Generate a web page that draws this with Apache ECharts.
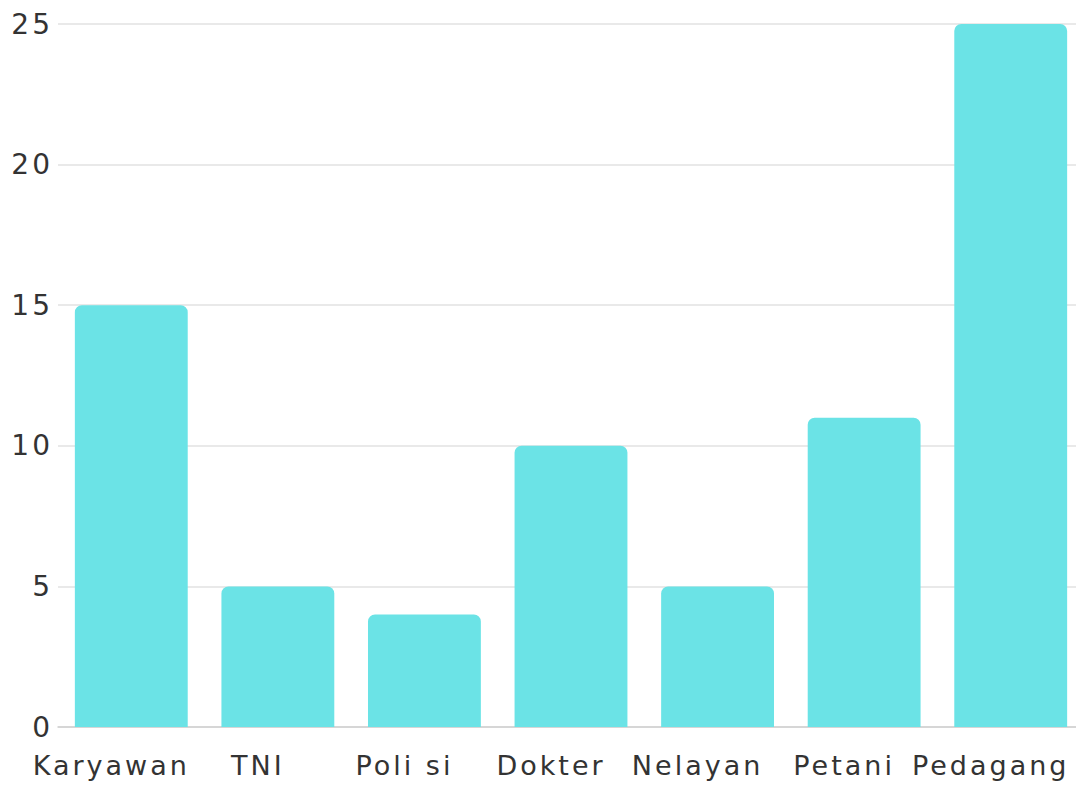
<!DOCTYPE html>
<html>
<head>
<meta charset="utf-8">
<style>
  html, body { margin: 0; padding: 0; background: #fff; }
  #main { width: 1076px; height: 785px; }
  #main svg text { letter-spacing: 3px; }
</style>
<script src="https://cdn.jsdelivr.net/npm/echarts@6/dist/echarts.min.js"></script>
</head>
<body>
<div id="main"></div>
<script>
const categories = ["Karyawan", "TNI", "Poli si", "Dokter", "Nelayan", "Petani", "Pedagang"];
const values = [15, 5, 4, 10, 5, 11, 25];
const yTicks = { min: 0, max: 25, interval: 5 };

const chart = echarts.init(document.getElementById('main'), null, { renderer: 'svg' });
chart.setOption({
  animation: false,
  backgroundColor: '#ffffff',
  grid: { left: 58, width: 1026, top: 24, height: 703, outerBoundsMode: 'none', containLabel: false },
  xAxis: {
    type: 'category',
    data: categories,
    axisLine: { show: true, lineStyle: { color: '#cfcfcf', width: 1.5 } },
    axisTick: { show: false },
    axisLabel: {
      color: '#333333',
      fontFamily: 'DejaVu Sans',
      fontSize: 27,
      margin: 25,
      padding: [0, 40, 0, 0],
      interval: 0
    }
  },
  yAxis: {
    type: 'value',
    min: yTicks.min,
    max: yTicks.max,
    interval: yTicks.interval,
    axisLine: { show: false },
    axisTick: { show: false },
    splitLine: { lineStyle: { color: '#e2e2e2', width: 1.5 } },
    axisLabel: {
      color: '#333333',
      fontFamily: 'DejaVu Sans',
      fontSize: 28,
      margin: 5
    }
  },
  series: [{
    type: 'bar',
    data: values,
    barCategoryGap: '23%',
    itemStyle: { color: '#6be3e6', borderRadius: [7, 7, 0, 0] }
  }]
});
</script>
</body>
</html>
